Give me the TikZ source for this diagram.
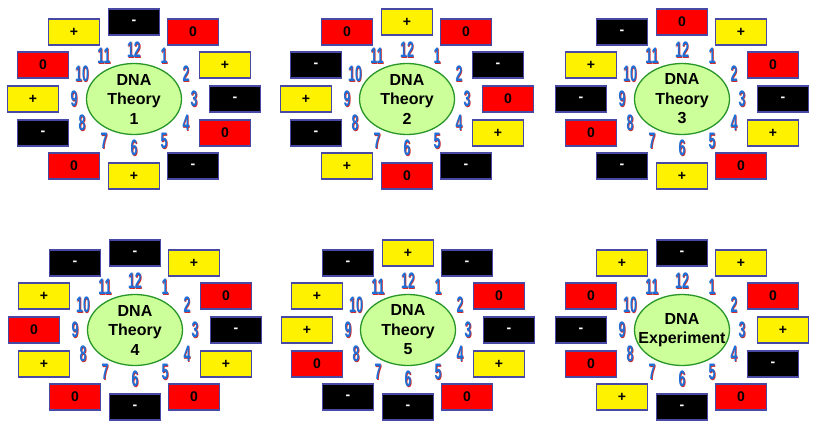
\documentclass[tikz,border=0pt]{standalone}
\usepackage{fontspec}
\setmainfont{Liberation Sans}
\usepackage{graphicx}
\usetikzlibrary{shapes.geometric}
\definecolor{hubfill}{RGB}{204,255,153}
\definecolor{hubline}{RGB}{40,150,40}
\definecolor{boxline}{RGB}{72,72,165}
\definecolor{numblue}{RGB}{30,110,215}
\definecolor{numred}{RGB}{205,45,45}
% hour digits: blue with a red drop shadow
\newcommand{\clocknum}[1]{\scalebox{0.88}[1.6]{\rlap{\kern0.8pt\raisebox{-0.6pt}{\color{numred}#1}}\color{numblue}#1}}
% box offsets from the centre, 1 o'clock to 12 o'clock
\def\boxdx{{59,91,101,91,59,0,-60,-91,-101,-91,-60,0}}
\def\boxdy{{-67,-34,0,34,67,77,67,34,0,-34,-67,-77}}
\begin{document}
\begin{tikzpicture}[x=1pt, y=-1pt,
    hub/.style={ellipse, draw=hubline, line width=1.3pt, fill=hubfill, minimum width=95pt, minimum height=71pt, inner sep=0pt},
    hubtext/.style={align=center, font=\bfseries\fontsize{16}{19.5}\selectfont},
    box/.style={draw=boxline, line width=1.3pt, minimum width=51pt, minimum height=26pt, inner sep=0pt, font=\bfseries\fontsize{14}{15}\selectfont},
    st+/.style={fill=yellow, text=black},
    st0/.style={fill=red, text=black},
    st-/.style={fill=black, text=white},
    num/.style={inner sep=0pt, font=\bfseries\fontsize{14}{14}\selectfont}
]
    \useasboundingbox (0,0) rectangle (815,429);
    \foreach \cname/\cx/\cy/\ctext/\states in {
        c1/134/99/{DNA\\Theory\\1}/{0,+,-,0,-,+,0,-,+,0,+,-},
        c2/407/99/{DNA\\Theory\\2}/{0,-,0,+,-,0,+,-,+,-,0,+},
        c3/682/99/{DNA\\Theory\\3}/{+,0,-,+,0,+,-,0,-,+,-,0},
        c4/135/330/{DNA\\Theory\\4}/{+,0,-,+,0,-,0,+,0,+,-,-},
        c5/408/330/{DNA\\Theory\\5}/{-,0,-,+,0,-,-,0,+,+,-,+},
        c6/682/330/{DNA\\Experiment}/{+,0,+,-,0,-,+,0,-,0,+,-}}{
        % centre
        \node[hub] (\cname) at (\cx,\cy) {};
        \node[hubtext] (\cname-t) at (\cname) {\ctext};
        % boxes and hours
        \foreach \s [count=\h] in \states {
            \pgfmathsetmacro\dx{\boxdx[\h-1]}
            \pgfmathsetmacro\dy{\boxdy[\h-1]}
            \node[box, st\s] (\cname-b\h) at ({\cx+\dx},{\cy+\dy}) {\s};
            \node[num] (\cname-n\h) at ({\cx+60*sin(30*\h)},{\cy-49*cos(30*\h)}) {\clocknum{\h}};
        }
    }
\end{tikzpicture}
\end{document}
